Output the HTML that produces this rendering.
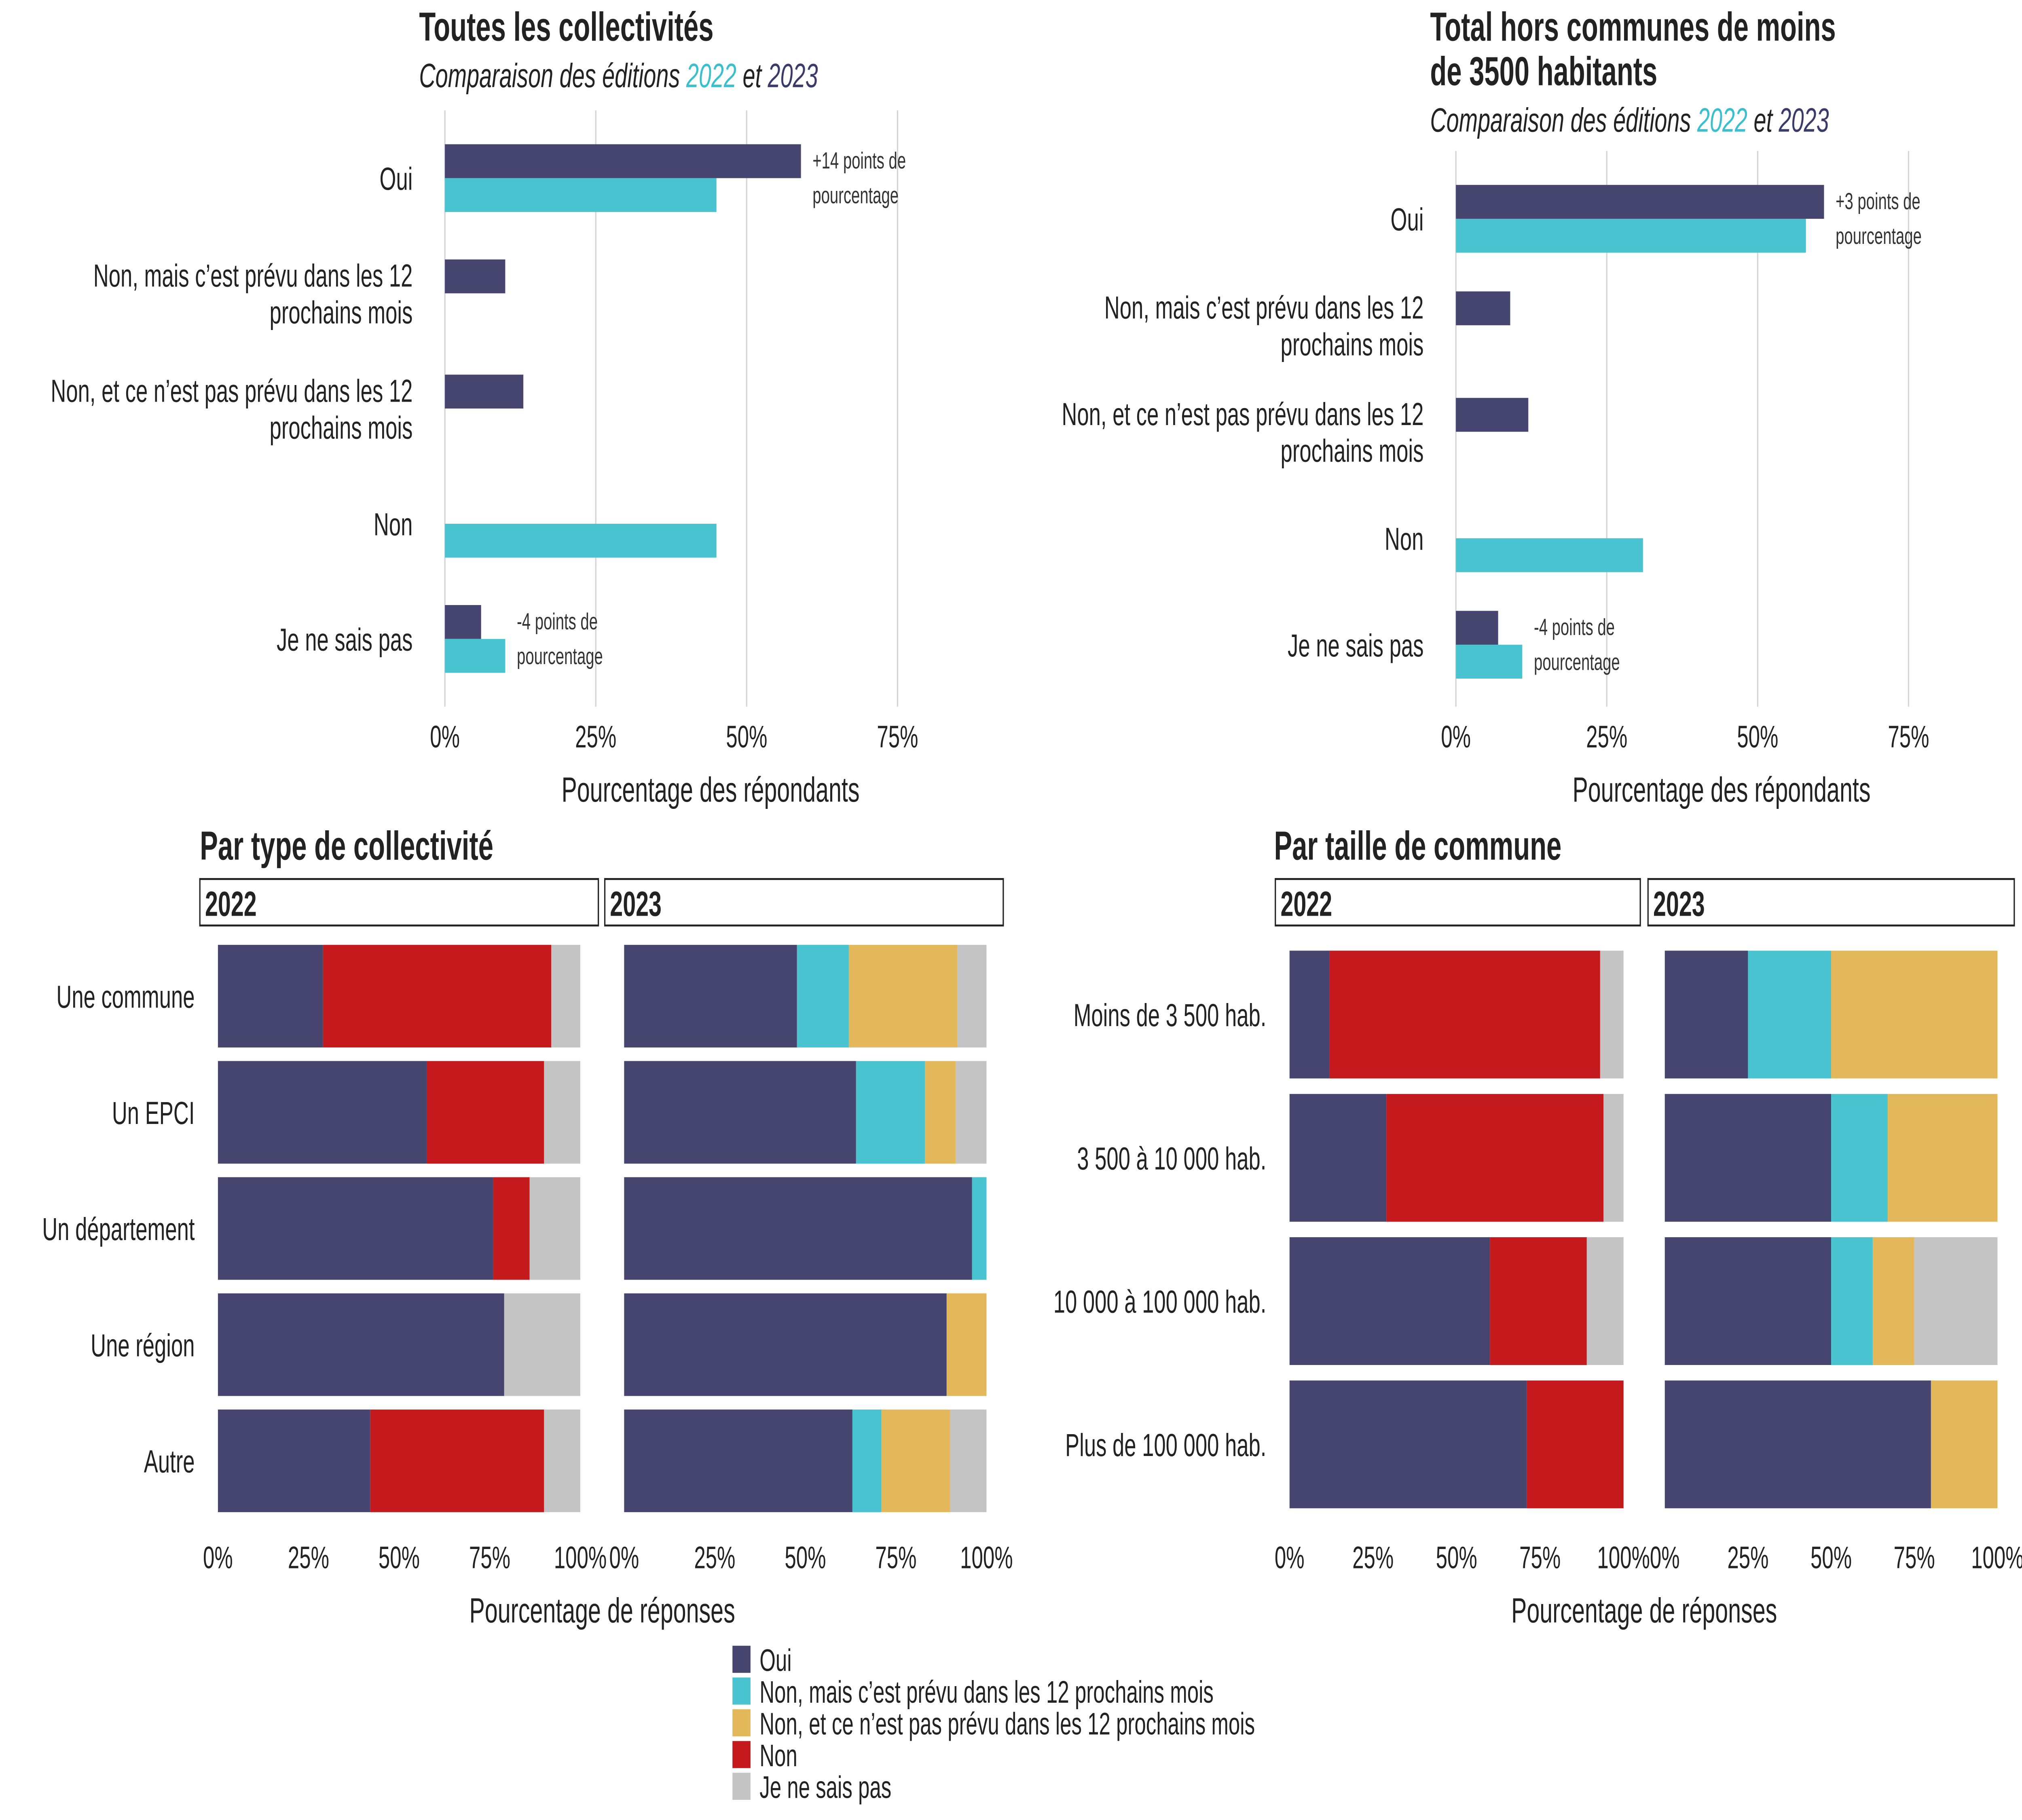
<!DOCTYPE html>
<html><head><meta charset="utf-8">
<style>
html,body{margin:0;padding:0;background:#fff;width:100%;height:100%;overflow:hidden;}
svg{display:block;font-family:"Liberation Sans",sans-serif;width:100vw;height:100vh;}
</style></head>
<body>
<svg id="chart" viewBox="0 0 1568 940" preserveAspectRatio="none" xmlns="http://www.w3.org/2000/svg">
<rect width="1568" height="940" fill="#fff"/>
<g id="root"></g>
</svg>
<script>
// ---------- data ----------
const topCategories = ["Oui","Non, mais c’est prévu dans les 12|prochains mois","Non, et ce n’est pas prévu dans les 12|prochains mois","Non","Je ne sais pas"];
const topLeft2023 = [59,10,13,0,6];
const topLeft2022 = [45,0,0,45,10];
const topRight2023 = [61,9,12,0,7];
const topRight2022 = [58,0,0,31,11];
const topTicks = ["0%","25%","50%","75%"];
const typeCategories = ["Une commune","Un EPCI","Un département","Une région","Autre"];
// stacked order: Oui, Non mais prévu, Non pas prévu, Non, JNSP
const type2022 = [[29,0,0,63,8],[57.6,0,0,32.4,10],[76,0,0,10,14],[79,0,0,0,21],[42,0,0,48,10]];
const type2023 = [[47.7,14.3,30,0,8],[64,19,8.5,0,8.5],[96,4,0,0,0],[89,0,11,0,0],[63,8,19,0,10]];
const sizeCategories = ["Moins de 3 500 hab.","3 500 à 10 000 hab.","10 000 à 100 000 hab.","Plus de 100 000 hab."];
const size2022 = [[12,0,0,81,7],[29,0,0,65,6],[60,0,0,29,11],[71,0,0,29,0]];
const size2023 = [[25,25,50,0,0],[50,17,33,0,0],[50,12.5,12.5,0,25],[80,0,20,0,0]];
const stackTicks = ["0%","25%","50%","75%","100%"];
const legendLabels = ["Oui","Non, mais c’est prévu dans les 12 prochains mois","Non, et ce n’est pas prévu dans les 12 prochains mois","Non","Je ne sais pas"];
const colors = ["#45456f","#4ac3d0","#e2b85a","#c41a1d","#c4c4c4"];

const NS="http://www.w3.org/2000/svg";
const root=document.getElementById('root');
function el(tag,attrs,parent,text){const e=document.createElementNS(NS,tag);for(const k in attrs)e.setAttribute(k,attrs[k]);if(text!==undefined)e.textContent=text;(parent||root).appendChild(e);return e;}
function txt(x,y,s,size,anchor,extra,name){const t=el('text',Object.assign({x:x,y:y,'font-size':size,'text-anchor':anchor||'start',fill:'#222'},extra||{}),root,s);

return t;}

function topChart(x0,yStart,spacing,v23,v22,gridTop,titleLines,subY,annots){
  const sx=v=>x0+v/100*468;
  titleLines.forEach((l,i)=>txt(x0-20,21+i*23,l,21,'start',{'font-weight':'bold'},'chart-title'));
  const st=txt(x0-20,subY,'',17.5,'start',{'font-style':'italic'},'chart-subtitle');
  el('tspan',{},st,'Comparaison des éditions ');el('tspan',{fill:'#3bbfcc'},st,'2022');el('tspan',{},st,' et ');el('tspan',{fill:'#3b3b6a'},st,'2023');
  topTicks.forEach((t,i)=>{const x=sx(i*25);
    const g=el('line',{x1:x,x2:x,y1:gridTop,y2:365,stroke:'#d4d4d4','stroke-width':1});
    
    txt(x,386,t,16,'middle',{},'x-tick-label');});
  topCategories.forEach((c,i)=>{const yc=yStart+i*spacing;
    const lines=c.split('|');
    lines.forEach((l,j)=>txt(x0-25,yc+6+(j-(lines.length-1)/2)*19,l,16.5,'end',{},'category-label'));
    if(v23[i]>0){const r=el('rect',{x:x0,y:yc-17.5,width:sx(v23[i])-x0,height:17.5,fill:colors[0]});
      }
    if(v22[i]>0){const r=el('rect',{x:x0,y:yc,width:sx(v22[i])-x0,height:17.5,fill:colors[1]});
      }
    if(annots[i]){const ax=sx(Math.max(v23[i],v22[i]))+9;
      txt(ax,yc-5,annots[i],12,'start',{fill:'#333'},'annotation');
      txt(ax,yc+13,'pourcentage',12,'start',{fill:'#333'},'annotation');}
  });
  txt(x0+206,414,'Pourcentage des répondants',18,'middle',{},'x-axis-title');
}
topChart(345,92,59.5,topLeft2023,topLeft2022,57,["Toutes les collectivités"],45,["+14 points de",null,null,null,"-4 points de"]);
topChart(1129,113,55,topRight2023,topRight2022,78,["Total hors communes de moins","de 3500 habitants"],68,["+3 points de",null,null,null,"-4 points de"]);

function stackChart(title,tx,strips,panels,cats,datas,rowTop,rowH,rowStep,labelX,axisX){
  txt(tx,444,title,21,'start',{'font-weight':'bold'},'chart-title');
  strips.forEach((s,i)=>{const r=el('rect',{x:s[0],y:454,width:s[1]-s[0],height:24,fill:'#fff',stroke:'#222','stroke-width':1});
    
    txt(s[0]+4,473,i==0?'2022':'2023',18,'start',{'font-weight':'bold'},'facet-label');});
  panels.forEach((p,pi)=>{const w=p[1]-p[0];const sx=v=>p[0]+v/100*w;
    datas[pi].forEach((row,ri)=>{let acc=0;const y=rowTop+ri*rowStep;
      row.forEach((v,k)=>{if(v>0){const r=el('rect',{x:sx(acc),y:y,width:sx(acc+v)-sx(acc),height:rowH,fill:colors[k]});
        }acc+=v;});});
    stackTicks.forEach((t,i)=>txt(sx(i*25),810,t,16,'middle',{},'x-tick-label'));
  });
  cats.forEach((c,i)=>txt(labelX,rowTop+i*rowStep+rowH/2+6,c,16.5,'end',{},'category-label'));
  txt(axisX,838,'Pourcentage de réponses',18,'middle',{},'x-axis-title');
}
stackChart('Par type de collectivité',155,[[155,464],[469,778]],[[169,450],[484,765]],typeCategories,[type2022,type2023],488,53,60,151,467);
stackChart('Par taille de commune',988,[[989,1272],[1278,1562]],[[1000,1259],[1291,1549]],sizeCategories,[size2022,size2023],491,66,74,982,1275);

legendLabels.forEach((l,i)=>{const y=850+i*16.4;
  const r=el('rect',{x:568,y:y,width:14,height:14,fill:colors[i]});
  
  txt(589,y+13,l,16,'start',{},'legend-entry');});
</script>
</body></html>
